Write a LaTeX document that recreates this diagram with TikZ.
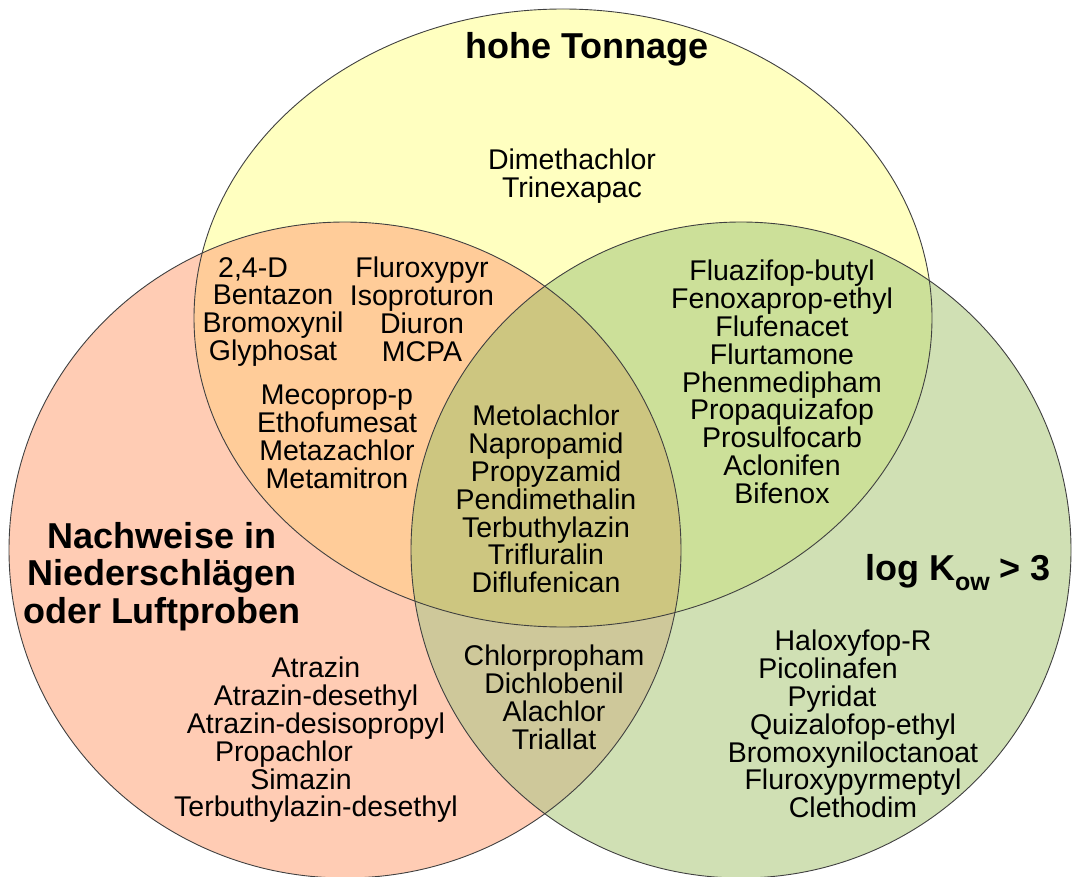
\documentclass[tikz,border=0pt]{standalone}
\usepackage{fontspec}
\setmainfont{Liberation Sans}
\usepackage{tikz}

\definecolor{gelb}{HTML}{FFFFC0}
\definecolor{rosa}{HTML}{FFCCB4}
\definecolor{gruen}{HTML}{D0E0B4}
\definecolor{orange}{HTML}{FFCC99}
\definecolor{hellgruen}{HTML}{CCE099}
\definecolor{beige}{HTML}{CEC89A}
\definecolor{oliv}{HTML}{CDC680}

\newcommand{\luecke}[1]{\rule{#1}{0pt}}

\begin{document}
\begin{tikzpicture}[x=1pt,y=-1pt,
        stoff/.style={align=center,inner sep=0pt,anchor=north,font=\fontsize{28.5}{27.8}\selectfont},
        titel/.style={align=center,inner sep=0pt,font=\fontsize{36}{37.5}\selectfont\bfseries},
        rand/.style={draw=black!75,line width=0.9pt}]
    \useasboundingbox (0,0) rectangle (1075,877);
    \def\tonnage{(563,318) ellipse [x radius=369,y radius=309]}
    \def\nachweis{(345,550) ellipse [x radius=336,y radius=328]}
    \def\kow{(741,550) ellipse [x radius=330,y radius=328]}

    % Flaechen
    \fill[gelb] \tonnage;
    \fill[rosa] \nachweis;
    \fill[gruen] \kow;
    \begin{scope}
        \clip \nachweis;
        \fill[orange] \tonnage;
        \fill[beige] \kow;
    \end{scope}
    \begin{scope}
        \clip \kow;
        \fill[hellgruen] \tonnage;
    \end{scope}
    \begin{scope}
        \clip \nachweis;
        \clip \kow;
        \fill[oliv] \tonnage;
    \end{scope}
    \draw[rand] \tonnage;
    \draw[rand] \nachweis;
    \draw[rand] \kow;

    % Titel
    \node[titel,anchor=base] (tontitel) at (587,59) {hohe Tonnage};
    \node[titel,anchor=north] (nachtitel) at (162,522) {Nachweise in\\Niederschlägen\\oder Luftproben};
    \node[titel,anchor=base] (kowtitel) at (958,580) {log K\raisebox{-10pt}{\fontsize{25}{25}\selectfont ow} > 3};

    % Stoffe
    \node[stoff] (nurton) at (572,149) {Dimethachlor\\Trinexapac};
    \node[stoff] (tonnachl) at (273,257) {2,4-D\luecke{40pt}\\Bentazon\\Bromoxynil\\Glyphosat};
    \node[stoff] (tonnachr) at (422,257) {Fluroxypyr\\Isoproturon\\Diuron\\MCPA};
    \node[stoff] (tonnachu) at (337,385) {Mecoprop-p\\Ethofumesat\\Metazachlor\\Metamitron};
    \node[stoff] (alle) at (546,405) {Metolachlor\\Napropamid\\Propyzamid\\Pendimethalin\\Terbuthylazin\\Trifluralin\\Diflufenican};
    \node[stoff] (tonkow) at (782,260) {Fluazifop-butyl\\Fenoxaprop-ethyl\\Flufenacet\\Flurtamone\\Phenmedipham\\Propaquizafop\\Prosulfocarb\\Aclonifen\\Bifenox};
    \node[stoff] (nachkow) at (554,645) {Chlorpropham\\Dichlobenil\\Alachlor\\Triallat};
    \node[stoff] (nurnach) at (316,657) {Atrazin\\Atrazin-desethyl\\Atrazin-desisopropyl\\Propachlor\luecke{64pt}\\Simazin\luecke{30pt}\\Terbuthylazin-desethyl};
    \node[stoff] (nurkow) at (853,630) {Haloxyfop-R\\Picolinafen\luecke{50pt}\\Pyridat\luecke{42pt}\\Quizalofop-ethyl\\Bromoxyniloctanoat\\Fluroxypyrmeptyl\\Clethodim};
\end{tikzpicture}
\end{document}
